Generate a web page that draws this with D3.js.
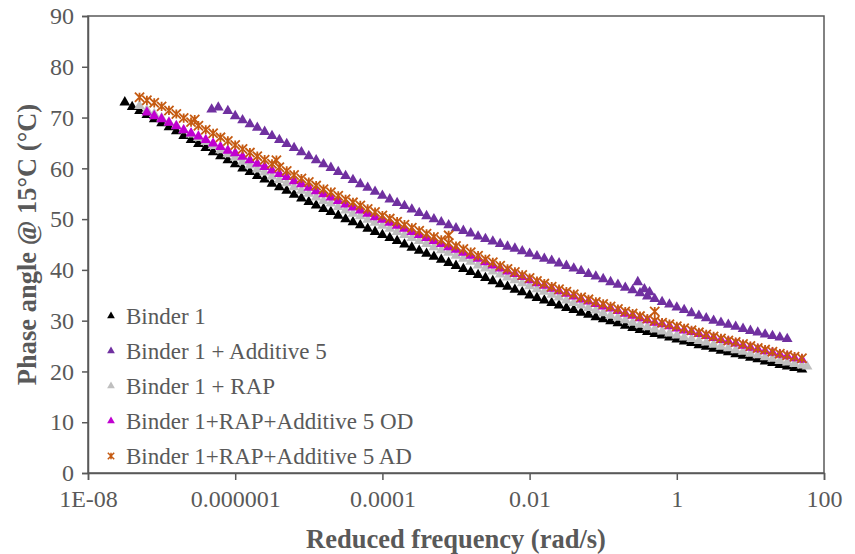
<!DOCTYPE html>
<html>
<head>
<meta charset="utf-8">
<script src="https://cdn.jsdelivr.net/npm/d3@7"></script>
<style>
  body { margin: 0; background: #fff; }
  svg { font-family: "Liberation Serif", "Times New Roman", serif; }
</style>
</head>
<body>
<div id="chart"></div>
<script>
// ---- data : [log10 reduced frequency, phase angle] ----
const binder1 = [
  [-7.5,73.0],[-7.4,72.1],[-7.3,71.3],[-7.2,70.5],[-7.1,69.7],[-7.0,68.9],[-6.9,68.1],[-6.8,67.3],[-6.7,66.4],[-6.6,65.6],
  [-6.5,64.8],[-6.4,64.0],[-6.3,63.2],[-6.2,62.4],[-6.1,61.6],[-6.0,60.8],[-5.9,60.0],[-5.8,59.3],[-5.7,58.5],[-5.6,57.8],
  [-5.5,57.0],[-5.4,56.3],[-5.3,55.6],[-5.2,54.8],[-5.1,54.1],[-5.0,53.4],[-4.9,52.7],[-4.8,52.0],[-4.7,51.4],[-4.6,50.7],
  [-4.5,50.0],[-4.4,49.4],[-4.3,48.8],[-4.2,48.1],[-4.1,47.5],[-4.0,46.9],[-3.9,46.3],[-3.8,45.7],[-3.7,45.0],[-3.6,44.4],
  [-3.5,43.8],[-3.4,43.2],[-3.3,42.6],[-3.2,42.0],[-3.1,41.4],[-3.0,40.8],[-2.9,40.2],[-2.8,39.6],[-2.7,39.0],[-2.6,38.4],
  [-2.5,37.8],[-2.4,37.2],[-2.3,36.7],[-2.2,36.1],[-2.1,35.6],[-2.0,35.0],[-1.9,34.5],[-1.8,34.0],[-1.7,33.5],[-1.6,33.0],
  [-1.5,32.5],[-1.4,32.1],[-1.3,31.6],[-1.2,31.2],[-1.1,30.7],[-1.0,30.3],[-0.9,29.9],[-0.8,29.5],[-0.7,29.0],[-0.6,28.6],
  [-0.5,28.2],[-0.4,27.8],[-0.3,27.4],[-0.2,27.1],[-0.1,26.7],[0.0,26.3],[0.1,25.9],[0.2,25.6],[0.3,25.2],[0.4,24.9],
  [0.5,24.5],[0.6,24.1],[0.7,23.8],[0.8,23.4],[0.9,23.1],[1.0,22.7],[1.1,22.4],[1.2,22.0],[1.3,21.7],[1.4,21.3],
  [1.5,21.0],[1.6,20.7],[1.7,20.4]
];
const binder1Add5 = [
  [-6.32,71.6],[-6.23,72.0],[-6.1,71.3],[-6.0,70.3],[-5.9,69.5],[-5.8,68.7],[-5.7,68.0],[-5.6,67.2],
  [-5.5,66.4],[-5.4,65.6],[-5.3,64.8],[-5.2,64.0],[-5.1,63.2],[-5.0,62.4],[-4.9,61.6],[-4.8,60.8],[-4.7,60.1],[-4.6,59.3],
  [-4.5,58.5],[-4.4,57.7],[-4.3,56.9],[-4.2,56.2],[-4.1,55.4],[-4.0,54.6],[-3.9,53.9],[-3.8,53.2],[-3.7,52.6],[-3.6,51.9],
  [-3.5,51.2],[-3.4,50.6],[-3.3,50.0],[-3.2,49.4],[-3.1,48.8],[-3.0,48.2],[-2.9,47.7],[-2.8,47.2],[-2.7,46.6],[-2.6,46.1],
  [-2.5,45.6],[-2.4,45.1],[-2.3,44.6],[-2.2,44.2],[-2.1,43.7],[-2.0,43.2],[-1.9,42.7],[-1.8,42.2],[-1.7,41.8],[-1.6,41.3],
  [-1.5,40.8],[-1.4,40.3],[-1.3,39.8],[-1.2,39.2],[-1.1,38.7],[-1.0,38.2],[-0.9,37.6],[-0.8,37.1],[-0.7,36.5],[-0.6,36.0],
  [-0.5,35.4],[-0.4,34.8],[-0.3,34.3],[-0.2,33.7],[-0.1,33.2],[0.0,32.6],[0.1,32.1],[0.2,31.5],[0.3,31.0],[0.4,30.5],
  [0.5,30.0],[0.6,29.6],[0.7,29.2],[0.8,28.8],[0.9,28.4],[1.0,28.0],[1.1,27.7],[1.2,27.3],[1.3,27.0],[1.4,26.7],
  [1.5,26.4],
  [-0.53,37.6],[-0.44,36.2],[-0.37,35.6]
];
const binder1Rap = [
  [-7.3,72.3],[-7.2,71.5],[-7.1,70.7],[-7.0,69.9],[-6.9,69.1],[-6.8,68.4],[-6.7,67.5],[-6.6,66.7],
  [-6.5,66.0],[-6.4,65.2],[-6.3,64.4],[-6.2,63.6],[-6.1,62.8],[-6.0,62.1],[-5.9,61.3],[-5.8,60.6],[-5.7,59.8],[-5.6,59.2],
  [-5.5,58.4],[-5.4,57.7],[-5.3,57.1],[-5.2,56.3],[-5.1,55.6],[-5.0,55.0],[-4.9,54.3],[-4.8,53.6],[-4.7,53.1],[-4.6,52.4],
  [-4.5,51.7],[-4.4,51.1],[-4.3,50.6],[-4.2,49.9],[-4.1,49.3],[-4.0,48.7],[-3.9,48.1],[-3.8,47.5],[-3.7,46.9],[-3.6,46.3],
  [-3.5,45.7],[-3.4,45.1],[-3.3,44.5],[-3.2,43.9],[-3.1,43.4],[-3.0,42.8],[-2.9,42.2],[-2.8,41.6],[-2.7,40.9],[-2.6,40.3],
  [-2.5,39.7],[-2.4,39.1],[-2.3,38.5],[-2.2,38.0],[-2.1,37.4],[-2.0,36.8],[-1.9,36.2],[-1.8,35.7],[-1.7,35.1],[-1.6,34.6],
  [-1.5,34.0],[-1.4,33.5],[-1.3,33.0],[-1.2,32.5],[-1.1,32.0],[-1.0,31.5],[-0.9,31.0],[-0.8,30.6],[-0.7,30.1],[-0.6,29.6],
  [-0.5,29.2],[-0.4,28.7],[-0.3,28.3],[-0.2,27.9],[-0.1,27.5],[0.0,27.1],[0.1,26.7],[0.2,26.4],[0.3,26.0],[0.4,25.7],
  [0.5,25.3],[0.6,24.9],[0.7,24.6],[0.8,24.2],[0.9,23.9],[1.0,23.5],[1.1,23.2],[1.2,22.8],[1.3,22.5],[1.4,22.1],
  [1.5,21.8],[1.6,21.5],[1.7,21.2],[1.77,21.0]
];
const binder1RapAdd5OD = [
  [-7.2,71.0],[-7.1,70.3],[-7.0,69.7],[-6.9,69.0],[-6.8,68.3],[-6.7,67.5],[-6.6,66.9],
  [-6.5,66.3],[-6.4,65.6],[-6.3,64.9],[-6.2,64.2],[-6.1,63.5],[-6.0,63.0],[-5.9,62.3],[-5.8,61.6],[-5.7,60.9],[-5.6,60.3],
  [-5.5,59.6],[-5.4,58.9],[-5.3,58.3],[-5.2,57.5],[-5.1,56.9],[-5.0,56.2],[-4.9,55.5],[-4.8,54.9],[-4.7,54.3],[-4.6,53.6],
  [-4.5,52.9],[-4.4,52.3],[-4.3,51.7],[-4.2,51.1],[-4.1,50.4],[-4.0,49.9],[-3.9,49.3],[-3.8,48.7],[-3.7,48.1],[-3.6,47.5],
  [-3.5,46.9],[-3.4,46.3],[-3.3,45.7],[-3.2,45.1],[-3.1,44.5],[-3.0,44.0],[-2.9,43.4],[-2.8,42.8],[-2.7,42.2],[-2.6,41.5],
  [-2.5,40.9],[-2.4,40.3],[-2.3,39.7],[-2.2,39.2],[-2.1,38.6],[-2.0,38.0],[-1.9,37.4],[-1.8,36.9],[-1.7,36.3],[-1.6,35.8],
  [-1.5,35.3],[-1.4,34.8],[-1.3,34.2],[-1.2,33.8],[-1.1,33.3],[-1.0,32.8],[-0.9,32.4],[-0.8,31.9],[-0.7,31.4],[-0.6,31.0],
  [-0.5,30.5],[-0.4,30.1],[-0.3,29.6],[-0.2,29.3],[-0.1,28.9],[0.0,28.5],[0.1,28.1],[0.2,27.8],[0.3,27.4],[0.4,27.0],
  [0.5,26.6],[0.6,26.2],[0.7,25.9],[0.8,25.5],[0.9,25.1],[1.0,24.7],[1.1,24.4],[1.2,24.0],[1.3,23.7],[1.4,23.3],
  [1.5,23.0],[1.6,22.6],[1.7,22.3]
];
const binder1RapAdd5AD = [
  [-7.3,74.0],[-7.2,73.4],[-7.1,72.9],[-7.0,72.2],[-6.9,71.4],[-6.8,70.7],[-6.7,69.9],[-6.6,69.1],
  [-6.5,68.4],[-6.4,67.6],[-6.3,66.9],[-6.2,66.1],[-6.1,65.4],[-6.0,64.6],[-5.9,63.8],[-5.8,63.1],[-5.7,62.4],[-5.6,61.7],
  [-5.5,60.9],[-5.4,60.2],[-5.3,59.5],[-5.2,58.7],[-5.1,58.0],[-5.0,57.3],[-4.9,56.6],[-4.8,55.9],[-4.7,55.3],[-4.6,54.6],
  [-4.5,53.9],[-4.4,53.3],[-4.3,52.7],[-4.2,52.0],[-4.1,51.4],[-4.0,50.7],[-3.9,50.1],[-3.8,49.5],[-3.7,48.9],[-3.6,48.3],
  [-3.5,47.7],[-3.4,47.1],[-3.3,46.5],[-3.2,45.9],[-3.1,45.3],[-3.0,44.7],[-2.9,44.1],[-2.8,43.5],[-2.7,42.8],[-2.6,42.1],
  [-2.5,41.5],[-2.4,40.8],[-2.3,40.2],[-2.2,39.6],[-2.1,39.0],[-2.0,38.4],[-1.9,37.8],[-1.8,37.3],[-1.7,36.7],[-1.6,36.2],
  [-1.5,35.7],[-1.4,35.2],[-1.3,34.6],[-1.2,34.2],[-1.1,33.7],[-1.0,33.3],[-0.9,32.8],[-0.8,32.3],[-0.7,31.8],[-0.6,31.4],
  [-0.5,30.9],[-0.4,30.4],[-0.3,30.0],[-0.2,29.6],[-0.1,29.3],[0.0,28.9],[0.1,28.5],[0.2,28.1],[0.3,27.7],[0.4,27.3],
  [0.5,26.9],[0.6,26.5],[0.7,26.1],[0.8,25.8],[0.9,25.4],[1.0,25.0],[1.1,24.6],[1.2,24.3],[1.3,23.9],[1.4,23.5],
  [1.5,23.2],[1.6,22.9],[1.7,22.6],
  [-6.55,69.6],[-5.44,61.6],[-3.1,46.8],[-0.3,31.8]
];

const seriesNames = ["Binder 1", "Binder 1 + Additive 5", "Binder 1 + RAP",
  "Binder 1+RAP+Additive 5 OD", "Binder 1+RAP+Additive 5 AD"];
const seriesColors = ["#000000", "#7030A0", "#BFBFBF", "#C000D0", "#C55A11"];
const seriesMarkers = ["triangle", "triangle", "triangle", "triangle", "star"];
const seriesData = [binder1, binder1Add5, binder1Rap, binder1RapAdd5OD, binder1RapAdd5AD];

const xTicks = [1e-8, 1e-6, 1e-4, 1e-2, 1, 100];
const xTickLabels = ["1E-08", "0.000001", "0.0001", "0.01", "1", "100"];
const yTicks = [0, 10, 20, 30, 40, 50, 60, 70, 80, 90];

// ---- layout ----
const width = 855, height = 554;
const plot = { left: 88, right: 824, top: 16, bottom: 473 };
const axisColor = "#595959";
const textColor = "#595959";

const svg = d3.select("#chart").append("svg")
  .attr("width", width)
  .attr("height", height);

const x = d3.scaleLog().domain([1e-8, 100]).range([plot.left, plot.right]);
const y = d3.scaleLinear().domain([0, 90]).range([plot.bottom, plot.top]);

// markers
const tri = d3.symbol().type(d3.symbolTriangle).size(50);
const triSmall = d3.symbol().type(d3.symbolTriangle).size(26);
function starPath(r) {
  return `M0,${-r}L0,${r}M${-r},${-r}L${r},${r}M${-r},${r}L${r},${-r}`;
}

// series (drawn in legend order, last on top)
seriesData.forEach(function (data, i) {
  const g = svg.append("g").attr("class", "series");
  const pts = g.selectAll("path")
    .data(data)
    .enter()
    .append("path")
    .attr("transform", d => `translate(${x(Math.pow(10, d[0]))},${y(d[1])})`);
  if (seriesMarkers[i] === "triangle") {
    pts.attr("d", tri()).attr("fill", seriesColors[i]);
  } else {
    pts.attr("d", starPath(4.6))
      .attr("fill", "none")
      .attr("stroke", seriesColors[i])
      .attr("stroke-width", 1.8);
  }
});

// plot frame
svg.append("rect")
  .attr("x", plot.left).attr("y", plot.top)
  .attr("width", plot.right - plot.left)
  .attr("height", plot.bottom - plot.top)
  .attr("fill", "none")
  .attr("stroke", axisColor)
  .attr("stroke-width", 1.5);

// y axis
const yAxis = svg.append("g")
  .attr("transform", `translate(${plot.left},0)`)
  .call(d3.axisLeft(y).tickValues(yTicks).tickSize(6).tickPadding(8));
yAxis.select(".domain").attr("stroke", axisColor).attr("stroke-width", 1.5);
yAxis.selectAll(".tick line").attr("stroke", axisColor).attr("stroke-width", 1.5);
yAxis.selectAll(".tick text")
  .attr("fill", textColor)
  .style("font-family", "'Liberation Serif', serif")
  .style("font-size", "24px");

// x axis
const xAxis = svg.append("g")
  .attr("transform", `translate(0,${plot.bottom})`)
  .call(d3.axisBottom(x).tickValues(xTicks)
    .tickFormat((d, i) => xTickLabels[i]).tickSize(7).tickPadding(10));
xAxis.select(".domain").attr("stroke", axisColor).attr("stroke-width", 1.5);
xAxis.selectAll(".tick line").attr("stroke", axisColor).attr("stroke-width", 1.5);
xAxis.selectAll(".tick text")
  .attr("fill", textColor)
  .style("font-family", "'Liberation Serif', serif")
  .style("font-size", "24px");

// axis titles
svg.append("text")
  .attr("x", (plot.left + plot.right) / 2)
  .attr("y", 548)
  .attr("text-anchor", "middle")
  .attr("fill", textColor)
  .style("font-weight", "bold")
  .style("font-size", "26.5px")
  .text("Reduced frequency (rad/s)");

svg.append("text")
  .attr("transform", `translate(36,${(plot.top + plot.bottom) / 2}) rotate(-90)`)
  .attr("text-anchor", "middle")
  .attr("fill", textColor)
  .style("font-weight", "bold")
  .style("font-size", "26.5px")
  .text("Phase angle @ 15°C (°C)");

// legend
const legend = svg.append("g").attr("transform", "translate(111,316)");
seriesNames.forEach(function (name, i) {
  const row = legend.append("g").attr("transform", `translate(0,${i * 35})`);
  if (seriesMarkers[i] === "triangle") {
    row.append("path").attr("d", triSmall()).attr("fill", seriesColors[i]);
  } else {
    row.append("path").attr("d", starPath(3.2))
      .attr("fill", "none").attr("stroke", seriesColors[i]).attr("stroke-width", 1.5);
  }
  row.append("text")
    .attr("x", 15)
    .attr("y", 8)
    .attr("fill", textColor)
    .style("font-size", "23px")
    .text(name);
});
</script>
</body>
</html>
